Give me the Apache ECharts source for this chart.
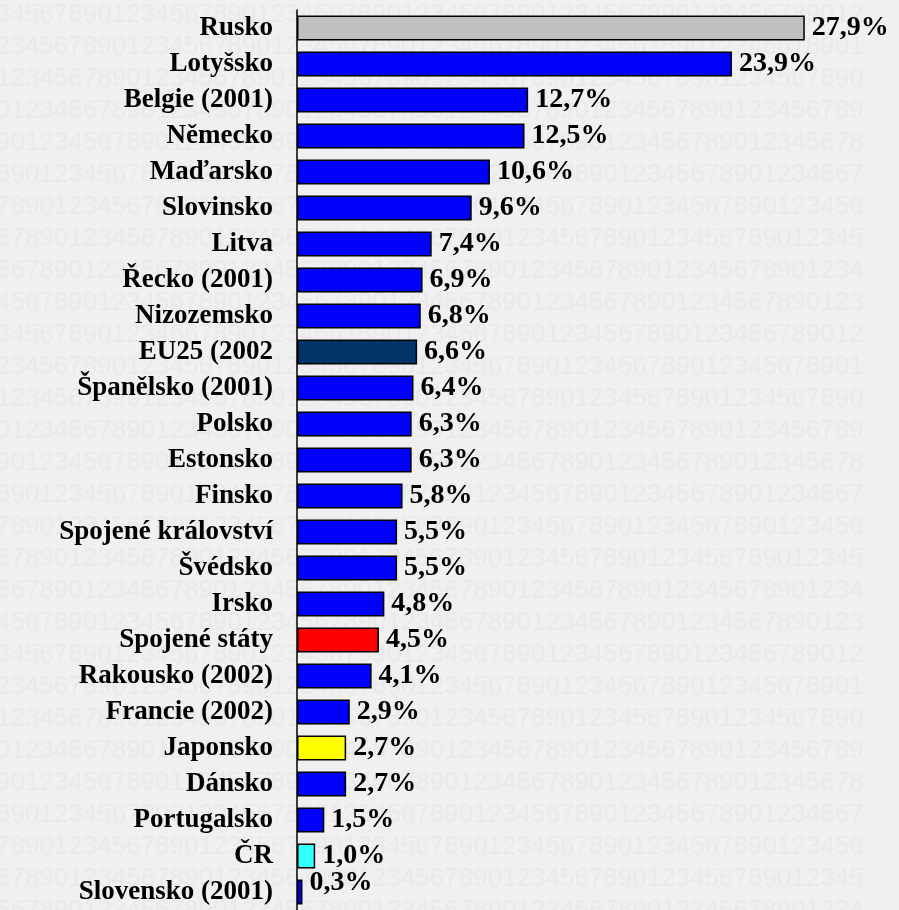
<!DOCTYPE html>
<html>
<head>
<meta charset="utf-8">
<script src="https://cdn.jsdelivr.net/npm/echarts@6/dist/echarts.min.js"></script>
<style>
  html, body { margin: 0; padding: 0; background: #f0f0f0; }
  #chart { width: 899px; height: 910px; }
</style>
</head>
<body>
<div id="chart"></div>
<script>
// země (shora dolů)
var countries = ["Rusko", "Lotyšsko", "Belgie (2001)", "Německo", "Maďarsko", "Slovinsko", "Litva",
  "Řecko (2001)", "Nizozemsko", "EU25 (2002", "Španělsko (2001)", "Polsko", "Estonsko", "Finsko",
  "Spojené království", "Švédsko", "Irsko", "Spojené státy", "Rakousko (2002)", "Francie (2002)",
  "Japonsko", "Dánsko", "Portugalsko", "ČR", "Slovensko (2001)"];
var values = [27.9, 23.9, 12.7, 12.5, 10.6, 9.6, 7.4, 6.9, 6.8, 6.6, 6.4, 6.3, 6.3, 5.8,
  5.5, 5.5, 4.8, 4.5, 4.1, 2.9, 2.7, 2.7, 1.5, 1.0, 0.3];
var barColors = ["#c0c0c0", "#0000ff", "#0000ff", "#0000ff", "#0000ff", "#0000ff", "#0000ff",
  "#0000ff", "#0000ff", "#003366", "#0000ff", "#0000ff", "#0000ff", "#0000ff",
  "#0000ff", "#0000ff", "#0000ff", "#ff0000", "#0000ff", "#0000ff",
  "#ffff00", "#0000ff", "#0000ff", "#33ffff", "#0000ff"];

var myChart = echarts.init(document.getElementById("chart"));

// pozadí s číslicemi (dekorace)
var bg = [];
for (var r = 0; r < 29; r++) {
  var start = (((13 - r) % 10) + 10) % 10;
  var s = "";
  for (var k = 0; k < 60; k++) s += (start + k) % 10;
  bg.push({
    type: "text", left: -4, top: r * 32 + 2, silent: true, z: -10,
    style: { text: s, fill: "#e9e9e9", font: "26px 'Liberation Sans'" }
  });
}

var seriesData = values.map(function (v, i) {
  var item = { value: v, itemStyle: { color: barColors[i] } };
  if (i == values.length - 1) item.label = { offset: [0, -9] };
  return item;
});

var font = "'Liberation Serif', 'Times New Roman', serif";
var option = {
  backgroundColor: "#f0f0f0",
  animation: false,
  graphic: bg,
  grid: { left: 297, top: 10, width: 546, height: 905 },
  xAxis: { type: "value", min: 0, max: 30, show: false },
  yAxis: {
    type: "category",
    inverse: true,
    data: countries,
    axisLine: { lineStyle: { color: "#000", width: 1.5 } },
    axisTick: { interval: 0, length: 10, lineStyle: { color: "#333", width: 1.5 } },
    axisLabel: {
      interval: 0, margin: 24, color: "#000", fontFamily: font, fontWeight: "bold", fontSize: 27
    }
  },
  series: [{
    type: "bar",
    data: seriesData,
    barWidth: 25,
    itemStyle: { borderColor: "#000", borderWidth: 1.5 },
    label: {
      show: true, position: "right", distance: 7, color: "#000",
      fontFamily: font, fontWeight: "bold", fontSize: 28,
      formatter: function (p) { return p.value.toFixed(1).replace(".", ",") + "%"; }
    }
  }]
};
myChart.setOption(option);
</script>
</body>
</html>
